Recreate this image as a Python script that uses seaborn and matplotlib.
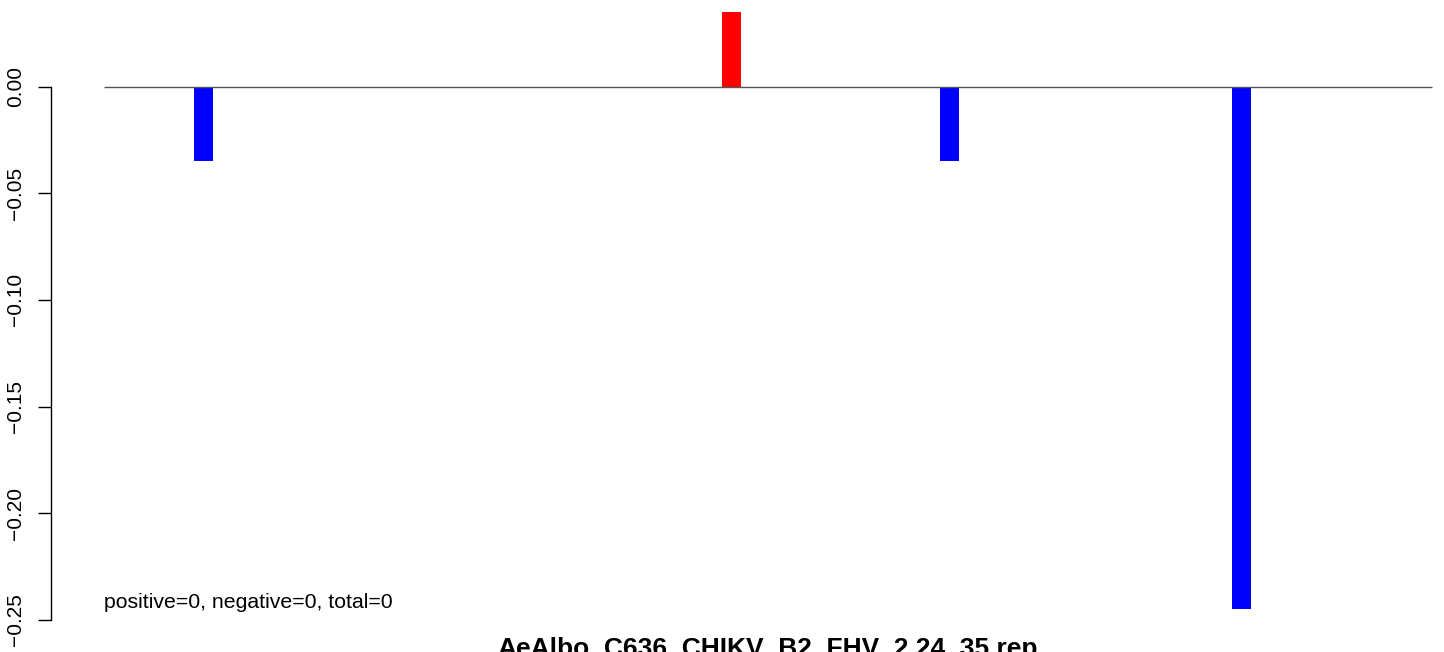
import matplotlib
matplotlib.use("Agg")
import matplotlib.pyplot as plt
import numpy as np
import pandas as pd
import seaborn as sns

positions = [106, 662, 892, 1199]
scores = [-0.0348, 0.0349, -0.0348, -0.2448]
seq_start, seq_end = 1, 1400
y_ticks = [0.00, -0.05, -0.10, -0.15, -0.20, -0.25]
y_tick_labels = ["0.00", "\u22120.05", "\u22120.10", "\u22120.15", "\u22120.20", "\u22120.25"]
summary_text = "positive=0, negative=0, total=0"
title_text = "AeAlbo_C636_CHIKV_B2_FHV_2.24_35.rep"

W, H = 1444, 652
X0_PX, X1_PX = 104, 1432
Y0_PX, PX_PER_UNIT = 86.5, 2134.0


def main():
    sns.set_style("white")
    plt.rcParams["font.family"] = ["Liberation Sans", "DejaVu Sans"]
    plt.rcParams["text.color"] = "black"
    plt.rcParams["ytick.color"] = "black"
    plt.rcParams["ytick.labelcolor"] = "black"

    fig = plt.figure(figsize=(W / 100, H / 100), dpi=100)
    ax = fig.add_axes([0, 0, 1, 1])
    ax.patch.set_alpha(0)

    df = pd.DataFrame({
        "pos": positions,
        "score": scores,
        "sign": ["pos" if s > 0 else "neg" for s in scores],
    })

    px_per_nt = (X1_PX - X0_PX) / (seq_end - seq_start)
    spacing = np.min(np.diff(sorted(positions)))
    bar_w = 19 / px_per_nt / spacing

    sns.barplot(
        data=df, x="pos", y="score", hue="sign",
        palette={"pos": "#ff0000", "neg": "#0000ff"},
        native_scale=True, dodge=False, width=bar_w,
        legend=False, saturation=1, linewidth=0, ax=ax,
    )

    ax.hlines(0, seq_start, seq_end, color="#555555", lw=1.0, zorder=3)

    xlim_lo = seq_start - X0_PX / px_per_nt
    xlim_hi = seq_start + (W - X0_PX) / px_per_nt
    ax.set_xlim(xlim_lo, xlim_hi)
    ax.set_ylim(-(H - Y0_PX) / PX_PER_UNIT, Y0_PX / PX_PER_UNIT)

    for side in ["top", "right", "bottom"]:
        ax.spines[side].set_visible(False)
    ax.spines["left"].set_position(("axes", 50.5 / W))
    ax.spines["left"].set_bounds(-0.25, 0.0)
    ax.spines["left"].set_linewidth(1.0)
    ax.spines["left"].set_color("black")

    ax.set_xticks([])
    ax.set_yticks(y_ticks)
    ax.set_yticklabels(y_tick_labels, rotation=90, va="center", fontsize=15, color="black")
    ax.tick_params(axis="y", left=True, length=9.4, width=1.0, pad=9, color="black")
    ax.set_xlabel("")
    ax.set_ylabel("")

    ax.text(seq_start, -0.2444, summary_text, fontsize=15.3, ha="left", va="baseline",
            color="black")

    fig.text((X0_PX + X1_PX) / 2 / W, (H - 656) / H, title_text,
             fontsize=19, fontweight="bold", ha="center", va="baseline", color="black")

    fig.savefig("out.png", dpi=100)
    plt.close(fig)


if __name__ == "__main__":
    main()
